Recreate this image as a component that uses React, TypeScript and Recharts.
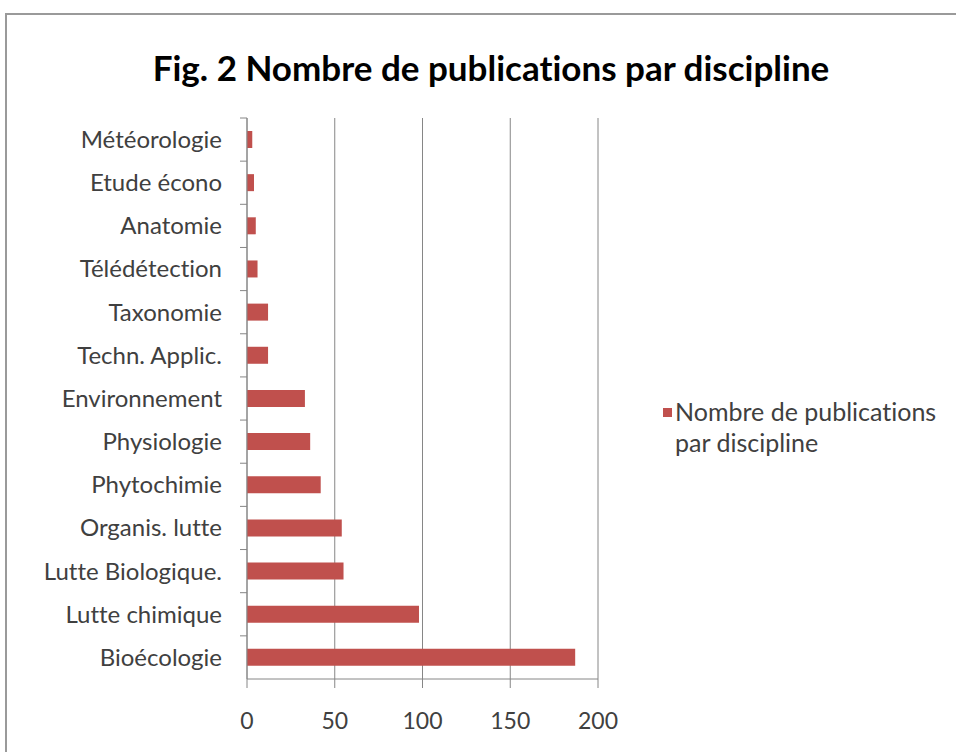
import { BarChart, Bar, XAxis, YAxis, CartesianGrid } from 'recharts'

const disciplines = [
  'Météorologie',
  'Etude écono',
  'Anatomie',
  'Télédétection',
  'Taxonomie',
  'Techn. Applic.',
  'Environnement',
  'Physiologie',
  'Phytochimie',
  'Organis. lutte',
  'Lutte Biologique.',
  'Lutte chimique',
  'Bioécologie',
]
const publications = [3, 4, 5, 6, 12, 12, 33, 36, 42, 54, 55, 98, 187]
const xTicks = [0, 50, 100, 150, 200]
const legendLines = ['Nombre de publications', 'par discipline']

const data = disciplines.map((d, i) => ({ discipline: d, value: publications[i] }))

const W = 956
const H = 752
const xAxisHeight = 30
const margin = { top: 118, right: 358, bottom: 43, left: 0 }
const band = (H - margin.top - margin.bottom - xAxisHeight) / disciplines.length
const font = 'Lato, "Open Sans", sans-serif'
const noLig = { fontVariantLigatures: 'none' as const }

function CategoryTick(props: any) {
  const { x, y, payload } = props
  return (
    <g>
      <line x1={x + 1} x2={x + 8} y1={y - band / 2} y2={y - band / 2} stroke="#868686" />
      <text x={x - 17} y={y} dy="0.35em" textAnchor="end" fontSize={24} fill="#404040" fontFamily={font} style={noLig}>
        {payload.value}
      </text>
    </g>
  )
}

export default function App() {
  return (
    <div style={{ position: 'absolute', left: 0, top: 0, width: W, height: H, background: '#fff', overflow: 'hidden' }}>
      <div
        style={{
          position: 'absolute',
          left: 5,
          top: 13,
          width: W,
          height: H,
          border: '2px solid #9a9a9a',
          boxSizing: 'border-box',
        }}
      />
      <div
        style={{
          position: 'absolute',
          left: 0,
          top: 46,
          width: 982,
          textAlign: 'center',
          fontFamily: font,
          fontWeight: 'bold',
          fontSize: 35,
          color: '#000',
          ...noLig,
        }}
      >
        Fig. 2 Nombre de publications par discipline
      </div>
      <div style={{ position: 'absolute', left: 0, top: 0 }}>
        <BarChart width={W} height={H} data={data} layout="vertical" margin={margin} barSize={17}>
          <CartesianGrid horizontal={false} stroke="#868686" />
          <XAxis
            type="number"
            domain={[0, 200]}
            ticks={xTicks}
            interval={0}
            height={xAxisHeight}
            tickSize={9}
            tickMargin={25}
            stroke="#868686"
            tick={{ fontSize: 23, fill: '#404040', fontFamily: font }}
          />
          <YAxis
            type="category"
            dataKey="discipline"
            width={247}
            interval={0}
            stroke="#868686"
            tickLine={false}
            tick={<CategoryTick />}
          />
          <Bar dataKey="value" fill="#C0504D" isAnimationActive={false} />
        </BarChart>
      </div>
      <div
        style={{
          position: 'absolute',
          left: 663,
          top: 396,
          display: 'flex',
          alignItems: 'flex-start',
          fontFamily: font,
          fontSize: 25,
          color: '#404040',
          lineHeight: '31px',
          ...noLig,
        }}
      >
        <span style={{ width: 9, height: 9, background: '#C0504D', marginTop: 12, marginRight: 3, flex: 'none' }} />
        <span>
          {legendLines.map((l) => (
            <div key={l}>{l}</div>
          ))}
        </span>
      </div>
    </div>
  )
}
